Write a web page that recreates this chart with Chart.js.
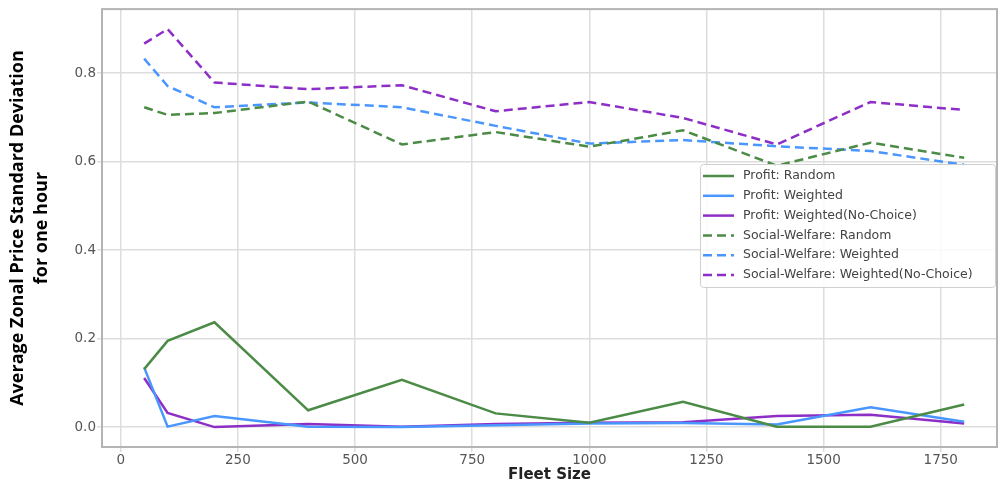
<!DOCTYPE html>
<html>
<head>
<meta charset="utf-8">
<script src="https://cdn.jsdelivr.net/npm/chart.js@4.4.1/dist/chart.umd.min.js"></script>
<style>
  html, body { margin: 0; padding: 0; background: #fff; }
  #wrap { width: 998px; height: 486px; position: relative; }
</style>
</head>
<body>
<div id="wrap"><canvas id="fleetChart"></canvas></div>
<script>
const fleetSizes = [50, 100, 200, 400, 600, 800, 1000, 1200, 1400, 1600, 1800];

const profitRandom = [0.131, 0.195, 0.237, 0.038, 0.107, 0.031, 0.010, 0.057, 0.001, 0.001, 0.051];
const profitWeighted = [0.135, 0.001, 0.025, 0.001, 0.000, 0.004, 0.008, 0.009, 0.006, 0.045, 0.012];
const profitNoChoice = [0.111, 0.032, 0.000, 0.007, 0.001, 0.007, 0.010, 0.011, 0.025, 0.028, 0.008];
const swRandom = [0.723, 0.706, 0.710, 0.736, 0.639, 0.667, 0.634, 0.671, 0.591, 0.643, 0.609];
const swWeighted = [0.833, 0.771, 0.723, 0.734, 0.723, 0.681, 0.641, 0.649, 0.635, 0.624, 0.593];
const swNoChoice = [0.867, 0.900, 0.779, 0.764, 0.773, 0.714, 0.735, 0.699, 0.639, 0.735, 0.717];

const xTickValues = [0, 250, 500, 750, 1000, 1250, 1500, 1750];
const yTickValues = [0.0, 0.2, 0.4, 0.6, 0.8];

const seriesLabels = [
  'Profit: Random',
  'Profit: Weighted',
  'Profit: Weighted(No-Choice)',
  'Social-Welfare: Random',
  'Social-Welfare: Weighted',
  'Social-Welfare: Weighted(No-Choice)'
];

const green = '#4b8b46';
const blue = '#4a96ff';
const purple = '#8d2fc6';
const dashPattern = [9, 5];

function toPoints(values) {
  return fleetSizes.map((x, i) => ({ x, y: values[i] }));
}

function makeDataset(label, values, color, dashed) {
  return {
    label,
    data: toPoints(values),
    borderColor: color,
    backgroundColor: color,
    borderWidth: 2.5,
    borderDash: dashed ? dashPattern : [],
    pointRadius: 0,
    tension: 0,
    fill: false,
  };
}

const datasets = [
  makeDataset(seriesLabels[0], profitRandom, green, false),
  makeDataset(seriesLabels[1], profitWeighted, blue, false),
  makeDataset(seriesLabels[2], profitNoChoice, purple, false),
  makeDataset(seriesLabels[3], swRandom, green, true),
  makeDataset(seriesLabels[4], swWeighted, blue, true),
  makeDataset(seriesLabels[5], swNoChoice, purple, true),
];

// frame round the plot area, like the matplotlib axes box
const framePlugin = {
  id: 'frame',
  afterDraw(chart) {
    const { ctx, chartArea } = chart;
    ctx.save();
    ctx.strokeStyle = '#b4b4b4';
    ctx.lineWidth = 2;
    ctx.strokeRect(chartArea.left, chartArea.top,
      chartArea.right - chartArea.left, chartArea.bottom - chartArea.top);
    ctx.restore();
  }
};

// legend box inside the plot, right side
const insideLegend = {
  id: 'insideLegend',
  afterDraw(chart) {
    const { ctx } = chart;
    const box = { x: 700, y: 164, w: 295, h: 123 };
    const rowStart = 176;
    const rowGap = 19.8;

    ctx.save();
    ctx.fillStyle = 'rgba(255, 255, 255, 0.85)';
    ctx.strokeStyle = '#d0d0d0';
    ctx.lineWidth = 1;
    ctx.beginPath();
    ctx.roundRect(box.x + 0.5, box.y + 0.5, box.w, box.h, 3);
    ctx.fill();
    ctx.stroke();

    ctx.font = '12.5px "DejaVu Sans"';
    ctx.textBaseline = 'middle';
    ctx.textAlign = 'left';

    chart.data.datasets.forEach((ds, i) => {
      const y = rowStart + i * rowGap;
      ctx.strokeStyle = ds.borderColor;
      ctx.lineWidth = 2.5;
      ctx.setLineDash(ds.borderDash);
      ctx.beginPath();
      ctx.moveTo(703, y);
      ctx.lineTo(734, y);
      ctx.stroke();
      ctx.setLineDash([]);
      ctx.fillStyle = '#444';
      ctx.fillText(ds.label, 743, y);
    });
    ctx.restore();
  }
};

const chartCanvas = document.getElementById('fleetChart');

new Chart(chartCanvas, {
  type: 'line',
  data: { datasets },
  options: {
    responsive: true,
    maintainAspectRatio: false,
    animation: false,
    layout: { padding: { top: 5, right: 1, left: 0, bottom: 0 } },
    plugins: {
      legend: { display: false },
      tooltip: { enabled: false },
    },
    scales: {
      x: {
        type: 'linear',
        min: -40,
        max: 1870,
        afterBuildTicks(scale) {
          scale.ticks = xTickValues.map((value) => ({ value }));
        },
        afterFit(scale) {
          scale.height = 39;
        },
        ticks: {
          color: '#555',
          font: { family: 'DejaVu Sans', size: 13.5 },
          padding: 0,
          maxRotation: 0,
          callback: (value) => String(value),
        },
        grid: {
          color: '#dddddd',
          lineWidth: 1.5,
          tickLength: 5,
        },
        border: { display: false },
        title: {
          display: true,
          text: 'Fleet Size',
          color: '#222',
          font: { family: 'DejaVu Sans', size: 15, weight: 'bold' },
          padding: { top: 0, bottom: 2 },
        },
      },
      y: {
        type: 'linear',
        min: -0.045,
        max: 0.945,
        afterBuildTicks(scale) {
          scale.ticks = yTickValues.map((value) => ({ value }));
        },
        afterFit(scale) {
          scale.width = 102;
        },
        ticks: {
          color: '#555',
          font: { family: 'DejaVu Sans', size: 13.5 },
          padding: 1,
          callback: (value) => value.toFixed(1),
        },
        grid: {
          color: '#dddddd',
          lineWidth: 1.5,
          tickLength: 5,
        },
        border: { display: false },
        title: {
          display: true,
          text: ['Average Zonal Price Standard Deviation', 'for one hour'],
          color: '#000',
          font: { family: 'Open Sans', size: 18, weight: 'bold', lineHeight: 1.333 },
          padding: { top: 6, bottom: 0 },
        },
      },
    },
  },
  plugins: [framePlugin, insideLegend],
});
</script>
</body>
</html>
